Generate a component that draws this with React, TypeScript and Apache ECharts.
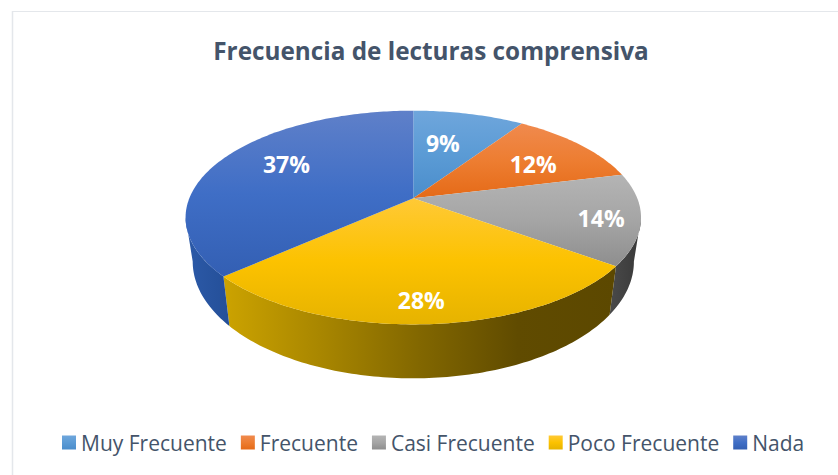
import React, { useEffect, useRef } from "react";
import * as echarts from "echarts";

const titleText = "Frecuencia de lecturas comprensiva";
const categories = ["Muy Frecuente", "Frecuente", "Casi Frecuente", "Poco Frecuente", "Nada"];
const values = [9.4, 11.8, 13.8, 28.4, 36.6];

const topStops = [
  ["#6fa6dc", "#5b9bd5", "#4a8dcb"],
  ["#f08a4e", "#ed7d31", "#e56a17"],
  ["#b4b4b4", "#a5a5a5", "#8e8e8e"],
  ["#ffc936", "#fcc200", "#e6b300"],
  ["#5f80c9", "#3f6ec6", "#335fb3"],
];
const wallStops: string[][] = [
  ["#3d7ab5", "#3d7ab5"],
  ["#a04f17", "#a04f17"],
  ["#4a4a4a", "#383838"],
  ["#cca300", "#a88600", "#826700", "#604b00", "#5c4800"],
  ["#2c5aa8", "#244f98"],
];
const labelDepth = [0.62, 0.7, 0.83, 0.83, 0.65];
const labelNudge = [[-7, 0], [0, 4], [0, 3], [-3, 1], [0, -8.5]];

const CX = 413.3;
const top = { v0: 198.3, a: 224, b: 103.4 };
const bottom = { v0: 240.5, a: 217, b: 113 };
const K = 0.18;
const project = (deg: number, t: number, p: { v0: number; a: number; b: number }) => {
  const r = (deg * Math.PI) / 180;
  const x = Math.sin(r) * t;
  const y = -Math.cos(r) * t;
  const w = 1 - K * y;
  return [CX + (p.a * x) / w, p.v0 + (p.b * y) / w];
};
const arc = (from: number, to: number, p: typeof top) => {
  const pts: number[][] = [];
  const n = Math.max(2, Math.ceil(Math.abs(to - from)));
  for (let i = 0; i <= n; i++) pts.push(project(from + ((to - from) * i) / n, 1, p));
  return pts;
};
const total = values.reduce((a, b) => a + b, 0);
const vgrad = (c: string[]) => ({
  type: "linear", x: 0, y: 0, x2: 0, y2: 1,
  colorStops: c.map((color, i) => ({ offset: i / (c.length - 1), color })),
});
const hgrad = (c: string[]) => ({
  type: "linear", x: 0, y: 0, x2: 1, y2: 0,
  colorStops: c.map((color, i) => ({ offset: i / (c.length - 1), color })),
});
const FONT = '"Open Sans", sans-serif';

export default function App() {
  const ref = useRef<HTMLDivElement>(null);
  useEffect(() => {
    document.body.style.margin = "0";
    const chart = echarts.init(ref.current!, undefined, { renderer: "svg" });
    const series = categories.map((name, idx) => ({
      type: "custom",
      name,
      coordinateSystem: "none",
      silent: true,
      itemStyle: { color: vgrad(topStops[idx]) },
      data: [values[idx]],
      renderItem: (_: any, api: any) => {
        const v = api.value(0);
        const before = values.slice(0, idx).reduce((a, b) => a + b, 0);
        const start = (before / total) * 360;
        const end = start + (v / total) * 360;
        const children: any[] = [];
        const wStart = Math.max(start, 100.4);
        const wEnd = Math.min(end, 259.6);
        if (wEnd > wStart) {
          children.push({
            type: "polygon",
            shape: { points: [...arc(wStart, wEnd, top), ...arc(wEnd, wStart, bottom)] },
            style: { fill: hgrad(wallStops[idx]) },
          });
        }
        children.push({
          type: "polygon",
          shape: { points: [[CX, top.v0], ...arc(start, end, top)] },
          style: { fill: vgrad(topStops[idx]) },
        });
        const [lx, ly] = project((start + end) / 2, labelDepth[idx], top);
        children.push({
          type: "text",
          x: lx + labelNudge[idx][0],
          y: ly + labelNudge[idx][1],
          style: {
            text: `${Math.round((v / total) * 100)}%`,
            fill: "#ffffff",
            font: `bold 23px ${FONT}`,
            align: "center",
            verticalAlign: "middle",
          },
        });
        return { type: "group", children };
      },
    }));
    chart.setOption({
      animation: false,
      backgroundColor: "#ffffff",
      title: {
        text: titleText,
        left: 426,
        top: 33,
        textAlign: "center",
        textStyle: { color: "#44546a", fontFamily: FONT, fontWeight: "bold", fontSize: 24.3 },
      },
      legend: {
        data: categories,
        left: 57,
        top: 427,
        itemWidth: 14,
        itemHeight: 14,
        itemGap: 14,
        icon: "rect",
        textStyle: { color: "#44546a", fontFamily: FONT, fontSize: 21 },
      },
      graphic: [
        { type: "line", shape: { x1: 12, y1: 11.5, x2: 838, y2: 11.5 }, style: { stroke: "#e4e7eb", lineWidth: 1 } },
        { type: "line", shape: { x1: 12.5, y1: 11, x2: 12.5, y2: 475 }, style: { stroke: "#e4e7eb", lineWidth: 1.5 } },
      ],
      series,
    });
    return () => chart.dispose();
  }, []);
  return <div ref={ref} style={{ position: "absolute", left: 0, top: 0, width: 838, height: 475 }} />;
}
